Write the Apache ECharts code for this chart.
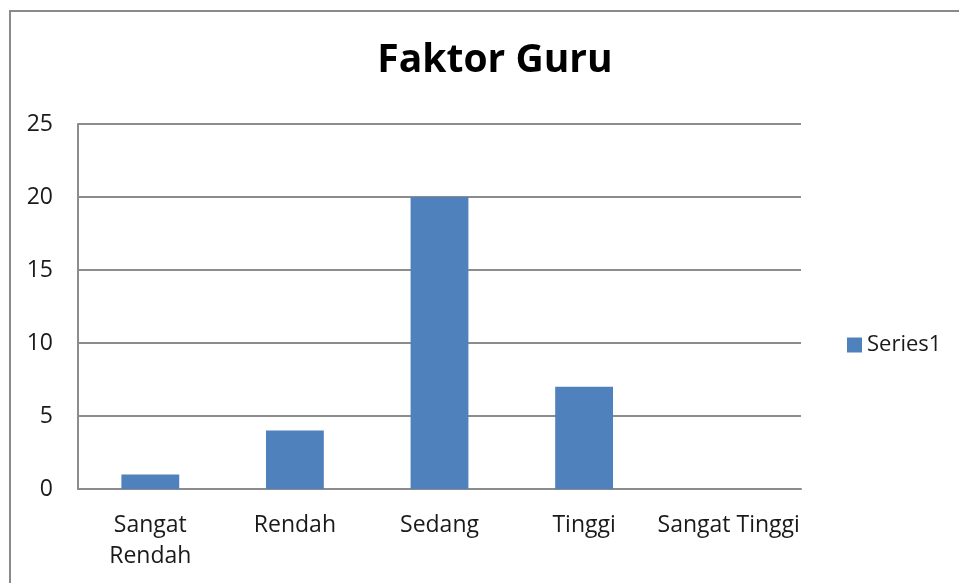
<!DOCTYPE html>
<html>
<head>
<meta charset="utf-8">
<script src="https://cdn.jsdelivr.net/npm/echarts@6/dist/echarts.min.js"></script>
<style>
html,body{margin:0;padding:0;background:#fff;}
#chart{width:959px;height:583px;}
</style>
</head>
<body>
<div id="chart"></div>
<script>
const categories = ['Sangat\nRendah', 'Rendah', 'Sedang', 'Tinggi', 'Sangat Tinggi'];
const seriesName = 'Series1';
const values = [1, 4, 20, 7, 0];
const titleText = 'Faktor Guru';

const FONT = 'Open Sans';
const chart = echarts.init(document.getElementById('chart'));
chart.setOption({
  animation: false,
  backgroundColor: '#ffffff',
  graphic: [{
    type: 'rect',
    shape: { x: 10, y: 11, width: 1200, height: 1200 },
    style: { fill: 'none', stroke: '#8a8a8a', lineWidth: 2 },
    silent: true
  }],
  title: {
    text: titleText,
    left: 490,
    textAlign: 'center',
    top: 36,
    textStyle: { fontFamily: FONT, fontWeight: 'bold', fontSize: 39, color: '#000' }
  },
  legend: {
    data: [seriesName],
    left: 842,
    top: 329,
    orient: 'vertical',
    itemWidth: 15,
    itemHeight: 15,
    itemGap: 8,
    icon: 'rect',
    textStyle: { fontFamily: FONT, fontSize: 22, color: '#1a1a1a' }
  },
  grid: { left: 78, top: 124, right: 158, bottom: 94, containLabel: false },
  xAxis: {
    type: 'category',
    data: categories,
    axisLine: { show: true, lineStyle: { color: '#8c8c8c', width: 2 } },
    axisTick: { show: false },
    axisLabel: { fontFamily: FONT, fontSize: 23, color: '#1a1a1a', margin: 21, lineHeight: 31, interval: 0 }
  },
  yAxis: {
    type: 'value',
    min: 0,
    max: 25,
    interval: 5,
    axisLine: { show: true, lineStyle: { color: '#8c8c8c', width: 2 } },
    axisTick: { show: false },
    splitLine: { show: true, lineStyle: { color: '#8c8c8c', width: 2 } },
    axisLabel: { fontFamily: FONT, fontSize: 23, color: '#1a1a1a', margin: 25 }
  },
  series: [{
    name: seriesName,
    type: 'bar',
    data: values,
    barWidth: '40%',
    itemStyle: { color: '#4f81bd' }
  }]
});
</script>
</body>
</html>
